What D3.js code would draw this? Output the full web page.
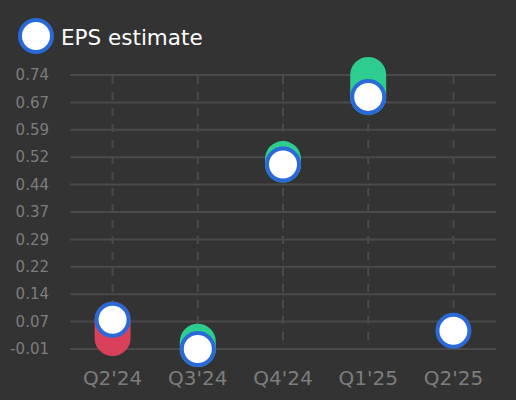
<!DOCTYPE html>
<html>
<head>
<meta charset="utf-8">
<script src="https://cdn.jsdelivr.net/npm/d3@7"></script>
<style>
  html, body { margin: 0; padding: 0; background: #333333; }
  #chart { width: 516px; height: 400px; }
</style>
</head>
<body>
<div id="chart"></div>
<script>
// Quarterly EPS: estimate vs actual
const quarters = ["Q2'24", "Q3'24", "Q4'24", "Q1'25", "Q2'25"];
const estimates = [0.07, -0.01, 0.495, 0.68, 0.04];
const actuals = [0.02, 0.01, 0.51, 0.74, null];
const tickLabels = ["-0.01", "0.07", "0.14", "0.22", "0.29", "0.37", "0.44", "0.52", "0.59", "0.67", "0.74"];

const width = 516, height = 400;
const margin = { top: 75, right: 20, bottom: 51, left: 70 };

const svg = d3.select("#chart")
    .append("svg")
    .attr("width", width)
    .attr("height", height)
    .style("display", "block");

svg.append("rect")
    .attr("width", width)
    .attr("height", height)
    .attr("fill", "#333333");

const allValues = estimates.concat(actuals.filter(d => d !== null));
const yMin = d3.min(allValues), yMax = d3.max(allValues);

const x = d3.scalePoint()
    .domain(quarters)
    .range([margin.left, width - margin.right])
    .padding(0.5);

const y = d3.scaleLinear()
    .domain([yMin, yMax])
    .range([height - margin.bottom, margin.top]);

// evenly spaced ticks between min and max
const tickValues = tickLabels.map((t, i) => yMin + i * (yMax - yMin) / (tickLabels.length - 1));

const gridColor = "#4a4a4a";
const textColor = "#7d7d7d";

// horizontal grid
svg.append("g")
    .selectAll("line")
    .data(tickValues)
    .join("line")
    .attr("x1", margin.left)
    .attr("x2", width - margin.right)
    .attr("y1", d => y(d))
    .attr("y2", d => y(d))
    .attr("stroke", gridColor)
    .attr("stroke-width", 2);

// y tick labels
svg.append("g")
    .selectAll("text")
    .data(tickValues)
    .join("text")
    .attr("x", 49)
    .attr("y", d => y(d))
    .attr("dy", "0.35em")
    .attr("text-anchor", "end")
    .attr("fill", textColor)
    .style("font-family", "DejaVu Sans, sans-serif")
    .style("font-size", "15px")
    .text((d, i) => tickLabels[i]);

// vertical dashed lines
svg.append("g")
    .selectAll("line")
    .data(quarters)
    .join("line")
    .attr("x1", d => x(d))
    .attr("x2", d => x(d))
    .attr("y1", y(yMax) + 1)
    .attr("y2", y(yMin))
    .attr("stroke", gridColor)
    .attr("stroke-width", 2)
    .attr("stroke-dasharray", "8,8");

// x labels
svg.append("g")
    .selectAll("text")
    .data(quarters)
    .join("text")
    .attr("x", d => x(d))
    .attr("y", 385)
    .attr("text-anchor", "middle")
    .attr("fill", textColor)
    .style("font-family", "DejaVu Sans, sans-serif")
    .style("font-size", "20px")
    .text(d => d);

// estimate -> actual capsules
const rows = quarters.map((q, i) => ({ q, est: estimates[i], act: actuals[i] }));

svg.append("g")
    .selectAll("line")
    .data(rows.filter(d => d.act !== null))
    .join("line")
    .attr("x1", d => x(d.q))
    .attr("x2", d => x(d.q))
    .attr("y1", d => y(d.est))
    .attr("y2", d => y(d.act))
    .attr("stroke", d => d.act >= d.est ? "#2dcc8f" : "#d9415a")
    .attr("stroke-width", 36)
    .attr("stroke-linecap", "round");

// estimate markers
svg.append("g")
    .selectAll("circle")
    .data(rows)
    .join("circle")
    .attr("cx", d => x(d.q))
    .attr("cy", d => y(d.est))
    .attr("r", 16)
    .attr("fill", "#ffffff")
    .attr("stroke", "#2a6ad8")
    .attr("stroke-width", 4);

// legend
const legend = svg.append("g").attr("transform", "translate(36,36)");
legend.append("circle")
    .attr("r", 16)
    .attr("fill", "#ffffff")
    .attr("stroke", "#2a6ad8")
    .attr("stroke-width", 4);
legend.append("text")
    .attr("x", 25)
    .attr("y", 1)
    .attr("dy", "0.35em")
    .attr("fill", "#ffffff")
    .style("font-family", "DejaVu Sans, sans-serif")
    .style("font-size", "21.5px")
    .text("EPS estimate");
</script>
</body>
</html>
